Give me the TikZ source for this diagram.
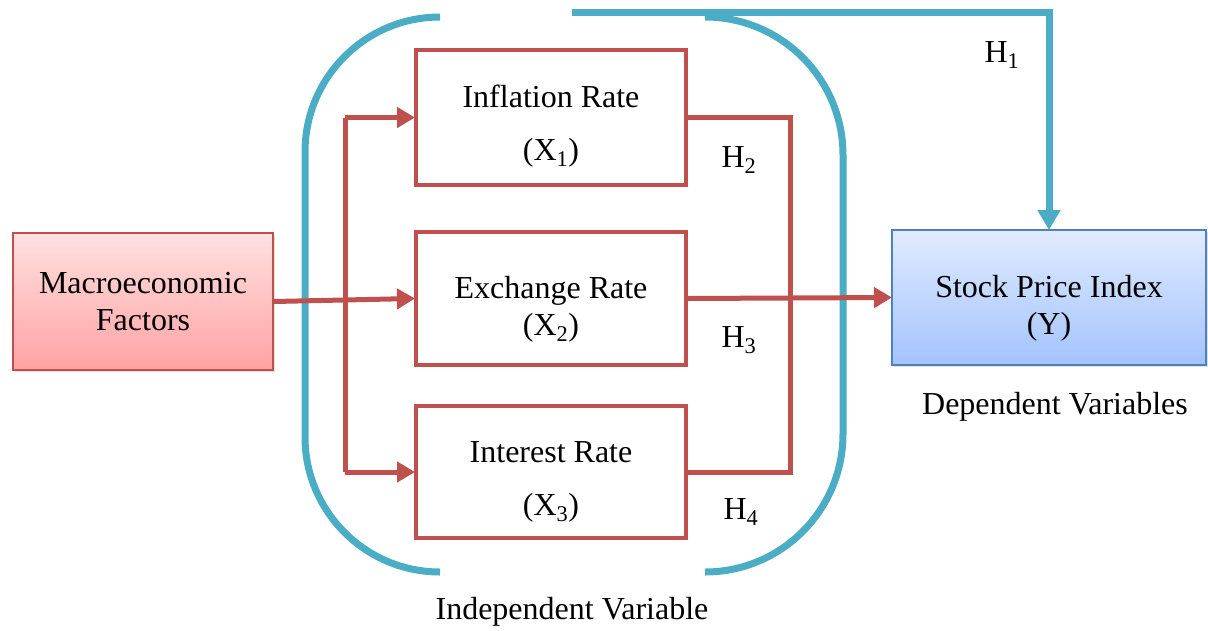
\documentclass[tikz,border=0pt]{standalone}
\usepackage{fontspec}
\setmainfont{Liberation Serif}
\usepackage{xcolor}
\usetikzlibrary{shapes,arrows,arrows.meta,positioning,shadows}

\definecolor{boxred}{HTML}{C0504D}
\definecolor{brackblue}{HTML}{4BACC6}
\definecolor{edgeblue}{HTML}{4F81BD}
\definecolor{pinktop}{HTML}{FFE0E0}
\definecolor{pinkbot}{HTML}{FFA3A3}
\definecolor{bluetop}{HTML}{E0EBFD}
\definecolor{bluebot}{HTML}{A3C3FF}

\tikzset{
  bigfont/.style={font=\fontsize{32}{37}\selectfont},
  varbox/.style={draw=boxred, line width=4pt, fill=white, bigfont, align=center,
    minimum width=270pt, inner sep=0pt,
    drop shadow={shadow xshift=2pt, shadow yshift=-2pt, opacity=0.25}},
  redline/.style={draw=boxred, line width=5pt},
  redarrow/.style={redline, -{Triangle[length=18pt,width=20pt]}, shorten >=-1pt},
  blueline/.style={draw=brackblue, line width=7pt}
}

\begin{document}
\begin{tikzpicture}[x=1pt,y=-1pt]
\useasboundingbox (0,0) rectangle (1208,630);

% Brackets round the independent variables
\draw[blueline, rounded corners=135pt] (440,17) -- (305,17) -- (305,572) -- (440,572);
\draw[blueline, rounded corners=138pt] (705,17) -- (843,17) -- (843,572) -- (705,572);

% Boxes
\node[draw=boxred, line width=2pt, top color=pinktop, bottom color=pinkbot,
  minimum width=260pt, minimum height=137pt, bigfont, align=center,
  drop shadow={shadow xshift=2pt, shadow yshift=-2pt, opacity=0.25}]
  (macro) at (143,301.5) {Macroeconomic\\Factors};
\node[varbox, minimum height=135pt] (infl) at (551,117.5)
  {\rule{0pt}{40pt}Inflation Rate\\[16pt](X\textsubscript{1})};
\node[varbox, minimum height=133pt] (exch) at (551,298.5)
  {\rule{0pt}{44pt}Exchange Rate\\(X\textsubscript{2})};
\node[varbox, minimum height=132pt] (inter) at (551,472)
  {\rule{0pt}{40pt}Interest Rate\\[16pt](X\textsubscript{3})};
\node[draw=edgeblue, line width=2pt, top color=bluetop, bottom color=bluebot,
  minimum width=314pt, minimum height=135pt, bigfont, align=center,
  drop shadow={shadow xshift=2pt, shadow yshift=-2pt, opacity=0.25}]
  (stock) at (1049,297.5) {\rule{0pt}{44pt}Stock Price Index\\(Y)};

% Captions
\node[bigfont] (dep) at (1055,407) {Dependent Variables};
\node[bigfont] (indep) at (572,612) {Independent Variable};

% Red links
\coordinate (split) at (345,300);
\coordinate (join) at (790,300);
\draw[redline] (split |- infl.west) -- (split |- inter.west);
\draw[redarrow] (split |- infl.west) -- (infl.west);
\draw[redarrow] (split |- inter.west) -- (inter.west);
\draw[redarrow] (macro.east) -- (exch.west);
\draw[redline] (infl.east) -| (join) |- (inter.east);
\draw[redarrow] (exch.east) -- (stock.west);

% H1 link
\coordinate (h1start) at (572,12);
\draw[blueline, -{Triangle[length=20pt,width=22pt]}, shorten >=-1pt] (h1start) -| (stock.north);

% Hypothesis labels
\node[bigfont] (h1) at (1002,55) {H\textsubscript{1}};
\node[bigfont] (h2) at (739,160) {H\textsubscript{2}};
\node[bigfont] (h3) at (739,340) {H\textsubscript{3}};
\node[bigfont] (h4) at (741,512) {H\textsubscript{4}};

\end{tikzpicture}
\end{document}
